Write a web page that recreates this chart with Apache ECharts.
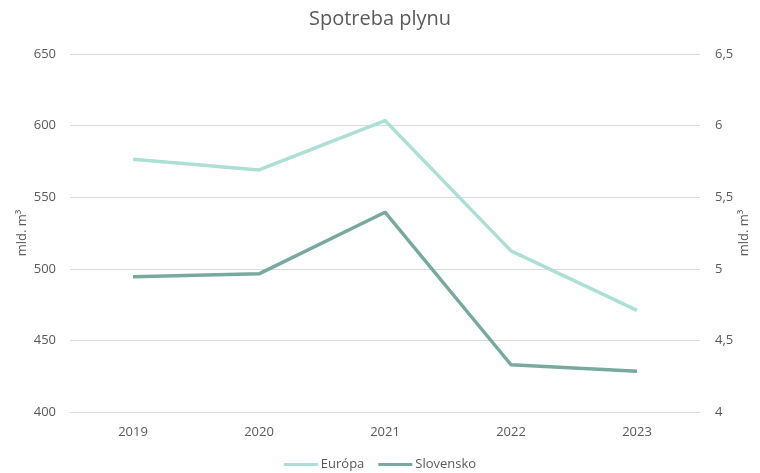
<!DOCTYPE html>
<html>
<head>
<meta charset="utf-8">
<script src="https://cdn.jsdelivr.net/npm/echarts@6/dist/echarts.min.js"></script>
<style>html,body{margin:0;padding:0;background:#fff}#c{width:760px;height:473px}</style>
</head>
<body>
<div id="c"></div>
<script>
const categories = ['2019', '2020', '2021', '2022', '2023'];
const europa = [576.5, 569, 603.5, 512.5, 471];
const slovensko = [4.945, 4.965, 5.395, 4.33, 4.285];
const seriesNames = ['Európa', 'Slovensko'];
const axisName = 'mld. m³';

const font = '"Open Sans", Lato, sans-serif';
const chart = echarts.init(document.getElementById('c'));
chart.setOption({
  animation: false,
  backgroundColor: '#fff',
  textStyle: { fontFamily: font },
  title: {
    text: 'Spotreba plynu',
    left: 'center',
    top: 4,
    textStyle: { fontFamily: font, fontSize: 20, fontWeight: 'normal', color: '#595959' }
  },
  legend: {
    top: 453,
    left: 'center',
    itemWidth: 34,
    itemHeight: 3,
    itemGap: 14,
    icon: 'rect',
    textStyle: { fontFamily: font, fontSize: 13, color: '#595959', padding: [0, 0, 0, -2] },
    data: seriesNames
  },
  grid: { left: 70, right: 60, top: 54, bottom: 61 },
  xAxis: {
    type: 'category',
    data: categories,
    boundaryGap: true,
    axisLine: { show: true, lineStyle: { color: '#d9d9d9', width: 1 } },
    axisTick: { show: false },
    axisLabel: { color: '#595959', fontSize: 13, margin: 14, fontFamily: font }
  },
  yAxis: [{
    type: 'value',
    min: 400, max: 650, interval: 50,
    name: axisName,
    nameLocation: 'middle',
    nameGap: 41,
    nameMoveOverlap: false,
    nameTextStyle: { color: '#595959', fontSize: 13, fontFamily: font },
    axisLine: { show: false },
    axisTick: { show: false },
    axisLabel: { color: '#595959', fontSize: 13, margin: 14, fontFamily: font },
    splitLine: { lineStyle: { color: '#d9d9d9', width: 1 } }
  }, {
    type: 'value',
    min: 4, max: 6.5, interval: 0.5,
    name: axisName,
    nameLocation: 'middle',
    nameGap: 38,
    nameMoveOverlap: false,
    nameTextStyle: { color: '#595959', fontSize: 13, fontFamily: font },
    axisLine: { show: false },
    axisTick: { show: false },
    axisLabel: {
      color: '#595959', fontSize: 13, margin: 15, fontFamily: font,
      formatter: v => String(v).replace('.', ',')
    },
    splitLine: { show: false }
  }],
  series: [{
    name: seriesNames[0],
    type: 'line',
    yAxisIndex: 0,
    data: europa,
    symbol: 'none',
    color: '#addfd5',
    lineStyle: { width: 3.5, color: '#addfd5' }
  }, {
    name: seriesNames[1],
    type: 'line',
    yAxisIndex: 1,
    data: slovensko,
    symbol: 'none',
    color: '#78a99e',
    lineStyle: { width: 3.5, color: '#78a99e' }
  }]
});
</script>
</body>
</html>
